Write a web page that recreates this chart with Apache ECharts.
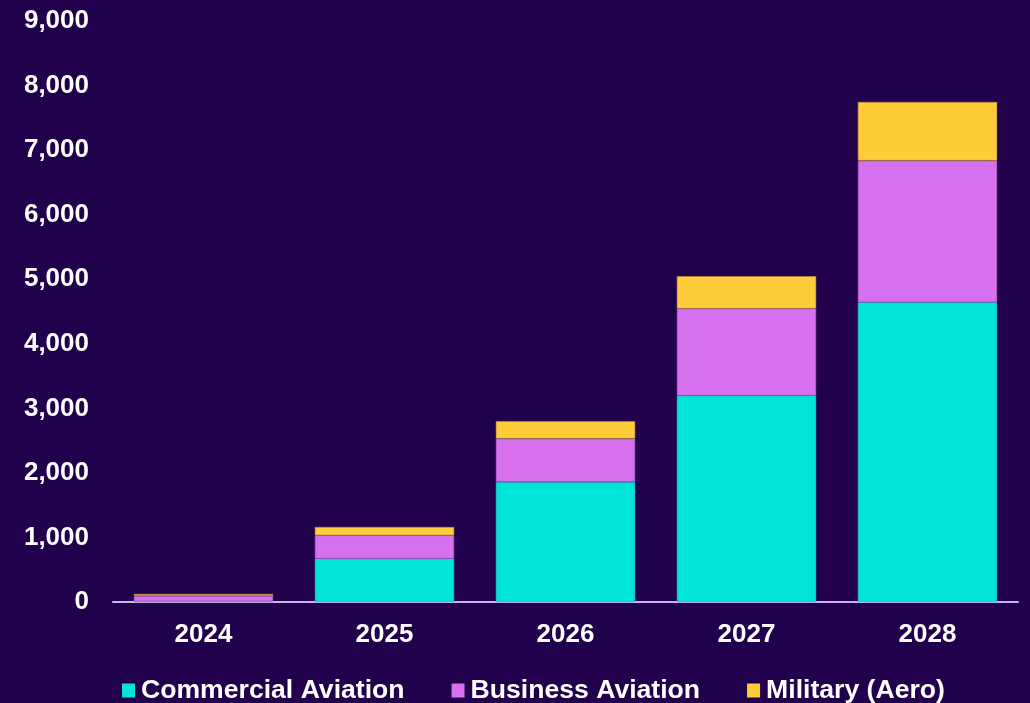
<!DOCTYPE html>
<html>
<head>
<meta charset="utf-8">
<script src="https://cdn.jsdelivr.net/npm/echarts@6/dist/echarts.min.js"></script>
<style>
html,body{margin:0;padding:0;background:#21004C;}
#chart{width:1030px;height:703px;}
</style>
</head>
<body>
<div id="chart"></div>
<script>
const categories = ['2024', '2025', '2026', '2027', '2028'];
const commercial = [10, 671, 1859, 3196, 4643];
const business = [85, 362, 671, 1348, 2194];
const military = [29, 129, 270, 502, 909];
const yTicks = { min: 0, max: 9000, interval: 1000 };

const font = '"Liberation Sans", Arial, sans-serif';
const colors = ['#00E5D8', '#D670EF', '#FFCC3A'];
const borders = ['#3aa9b5', '#9a4fc0', '#b8904a'];

const chart = echarts.init(document.getElementById('chart'));
function mk(name, data, i) {
  return {
    name: name, type: 'bar', stack: 'total', data: data,
    barCategoryGap: '23%',
    itemStyle: { color: colors[i], borderColor: borders[i], borderWidth: 0.6 },
    emphasis: { disabled: true }
  };
}
chart.setOption({
  backgroundColor: '#21004C',
  animation: false,
  grid: { left: 113, right: 12, top: 21, bottom: 101, containLabel: false },
  legend: {
    left: 117, top: 672, icon: 'rect', itemWidth: 13, itemHeight: 14, itemGap: 47,
    itemStyle: { borderWidth: 0 },
    textStyle: { color: '#ffffff', fontSize: 26.6, fontWeight: 'bold', fontFamily: font, padding: [0, 0, 0, 1] },
    data: ['Commercial Aviation', 'Business Aviation', 'Military (Aero)']
  },
  xAxis: {
    type: 'category', data: categories,
    axisLine: { lineStyle: { color: '#C9B5E8', width: 2 } },
    axisTick: { show: false },
    axisLabel: { color: '#ffffff', fontSize: 26, fontWeight: 'bold', fontFamily: font, margin: 20 }
  },
  yAxis: {
    type: 'value', min: yTicks.min, max: yTicks.max, interval: yTicks.interval,
    splitLine: { show: false },
    axisLine: { show: false },
    axisTick: { show: false },
    axisLabel: {
      color: '#ffffff', fontSize: 26, fontWeight: 'bold', fontFamily: font, margin: 24,
      formatter: v => v.toLocaleString('en-US')
    }
  },
  series: [
    mk('Commercial Aviation', commercial, 0),
    mk('Business Aviation', business, 1),
    mk('Military (Aero)', military, 2)
  ]
});
</script>
</body>
</html>
